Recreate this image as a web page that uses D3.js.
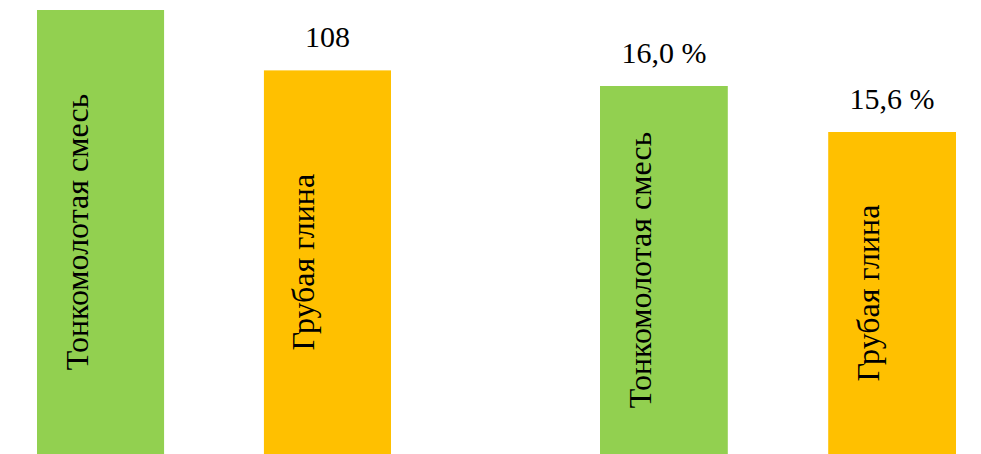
<!DOCTYPE html>
<html>
<head>
<meta charset="utf-8">
<script src="https://cdn.jsdelivr.net/npm/d3@7"></script>
<style>
  html, body { margin: 0; padding: 0; background: #fff; }
  svg { display: block; }
</style>
</head>
<body>
<svg id="chart" width="981" height="454" font-family="Times New Roman" style="font-family: 'Times New Roman'"></svg>
<script>
// Data
const categories = ["Тонкомолотая смесь", "Грубая глина"];
const leftValues = [125, 108];      // left panel (value of first bar)
const rightValues = [16.0, 15.6];   // right panel, %
const colors = ["#92D050", "#FFC000"];

const svg = d3.select("#chart");

function fmtLeft(v) { return d3.format("d")(v); }
function fmtRight(v) { return d3.format(".1f")(v).replace(".", ",") + " %"; }

function panel(values, xRange, yDomain, yRange, fmt, showLabel) {
  const x = d3.scaleBand().domain(categories).range(xRange).paddingInner(0.44).paddingOuter(0);
  const y = d3.scaleLinear().domain(yDomain).range(yRange);
  const g = svg.append("g").style("font-family", '"Times New Roman"');
  const data = categories.map((c, i) => ({ c, v: values[i], i }));

  g.selectAll("rect").data(data).join("rect")
    .attr("x", d => x(d.c))
    .attr("y", d => y(d.v))
    .attr("width", x.bandwidth())
    .attr("height", d => y(yDomain[0]) - y(d.v))
    .attr("fill", d => colors[d.i]);

  g.selectAll("text.val").data(data.filter((d) => showLabel[d.i])).join("text")
    .attr("class", "val")
    .attr("x", d => x(d.c) + x.bandwidth() / 2)
    .attr("y", d => y(d.v) - 23)
    .attr("text-anchor", "middle")
    .attr("font-size", 30)
    .style("font-family", '"Times New Roman"')
    .attr("fill", "#000")
    .text(d => fmt(d.v));

  g.selectAll("text.cat").data(data).join("text")
    .attr("class", "cat")
    .attr("transform", d => {
      const cx = x(d.c) + x.bandwidth() / 2 - 13;
      const cy = (y(d.v) + y(yDomain[0])) / 2;
      return `translate(${cx},${cy}) rotate(-90)`;
    })
    .attr("text-anchor", "middle")
    .attr("font-size", 32)
    .style("font-family", '"Times New Roman"')
    .attr("fill", "#000")
    .text(d => d.c);
}

panel(leftValues, [37, 391], [0, 125], [454, 10], fmtLeft, [false, true]);
panel(rightValues, [600, 956], [12.8, 16.0], [454, 86], fmtRight, [true, true]);
</script>
</body>
</html>
